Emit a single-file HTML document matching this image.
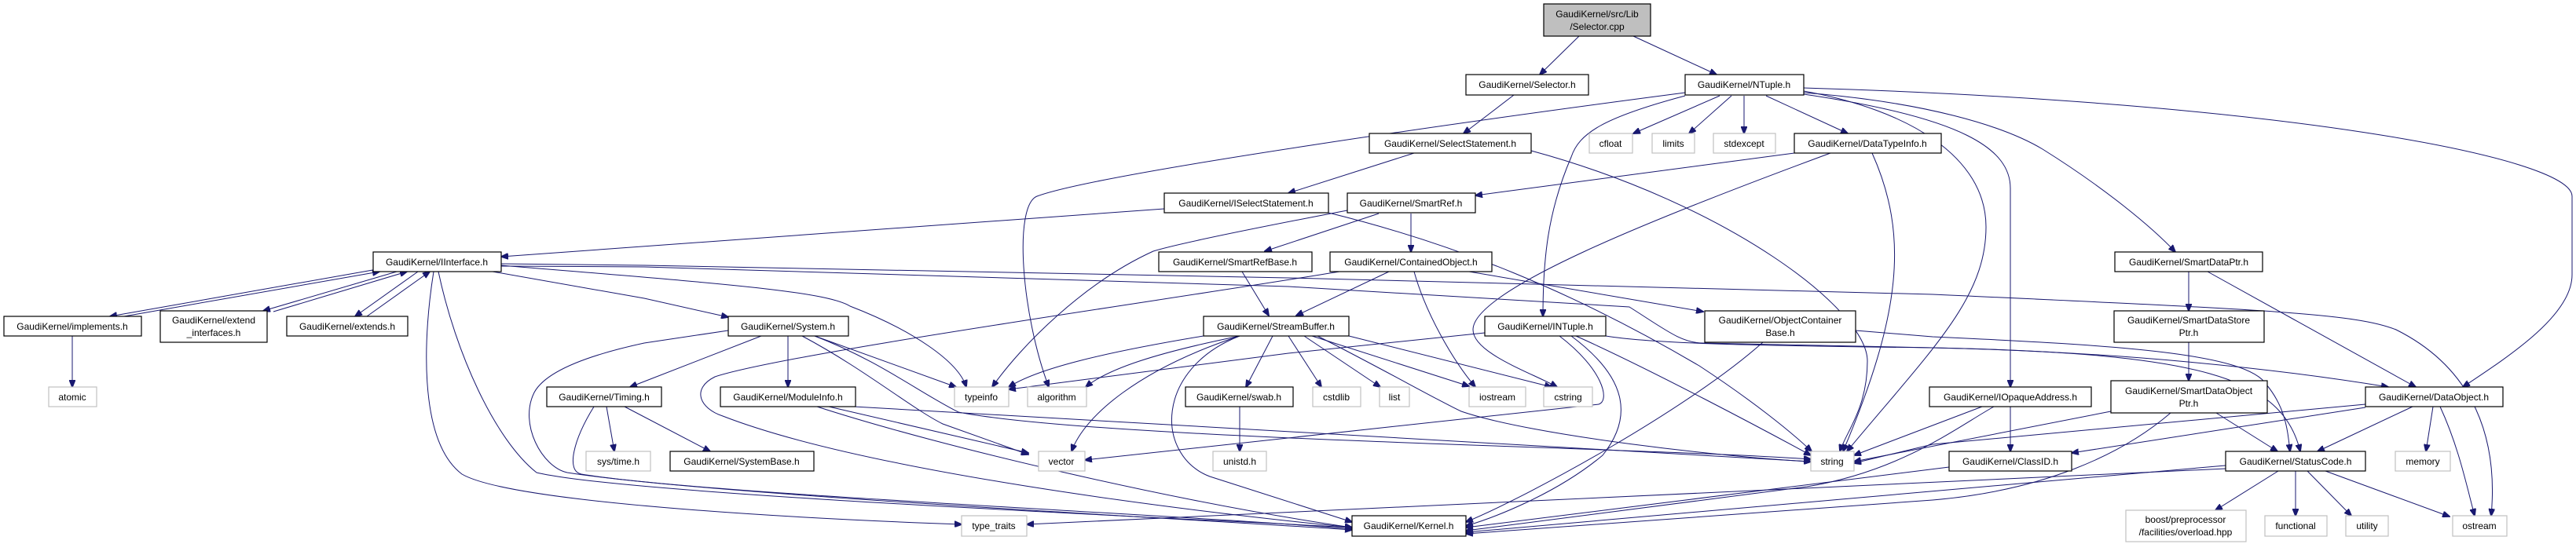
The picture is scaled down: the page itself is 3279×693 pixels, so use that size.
<!DOCTYPE html>
<html><head><meta charset="utf-8"><style>
html,body{margin:0;padding:0;background:#fff;}
svg{display:block;}
text{font-family:"Liberation Sans",sans-serif;font-size:12px;fill:#000;text-anchor:middle;}
.n{fill:#fff;stroke:#000;stroke-width:1.2;}
.g{fill:#fff;stroke:#c0c0c0;stroke-width:1.2;}
.e{fill:none;stroke:#191970;stroke-width:1;}
</style></head><body>
<svg width="3279" height="693" viewBox="0 0 3279 693" xmlns="http://www.w3.org/2000/svg">
<defs><marker id="a" markerWidth="10" markerHeight="8" refX="9" refY="4" orient="auto" markerUnits="userSpaceOnUse"><path d="M0,0 L10,4 L0,8 Z" fill="#191970" stroke="#191970"/></marker></defs>
<g class="e" marker-end="url(#a)">
<path d="M2010,46 L1960,95"/>
<path d="M2079,46 L2185,95"/>
<path d="M1927,121 L1863,170"/>
<path d="M1800,195 L1640,246"/>
<path d="M1949,192 C2200,260 2377,395 2377,460 C2377,520 2350,550 2342,575"/>
<path d="M1482,266 L638,327"/>
<path d="M1691,271 C1850,310 2000,370 2163,466 C2230,510 2280,550 2306,575"/>
<path d="M1755,272 L1610,320"/>
<path d="M1796,272 L1796,321"/>
<path d="M1715,268 C1600,290 1500,310 1468,320 C1380,360 1300,440 1263,493"/>
<path d="M2145,118 C1900,150 1400,220 1320,250 C1290,262 1300,400 1335,493"/>
<path d="M2145,122 C2040,150 2010,170 2000,200 C1970,270 1964,330 1964,403"/>
<path d="M2189,122 L2079,170"/>
<path d="M2204,122 L2150,170"/>
<path d="M2220,122 L2220,170"/>
<path d="M2248,122 L2352,170"/>
<path d="M2296,116 C2430,140 2528,200 2528,289 C2528,380 2460,444 2351,575"/>
<path d="M2296,118 C2450,130 2550,160 2600,190 C2680,240 2740,290 2769,321"/>
<path d="M2296,120 C2500,150 2559,190 2559,240 L2559,493"/>
<path d="M2296,112 C2900,130 3274,200 3274,250 L3274,350 C3274,400 3200,450 3135,493"/>
<path d="M2284,195 L1878,249"/>
<path d="M2383,195 C2430,300 2420,400 2346,575"/>
<path d="M2330,195 C2100,280 1875,370 1875,420 C1875,450 1950,475 1982,493"/>
<path d="M1581,346 L1615,402"/>
<path d="M1768,346 L1650,402"/>
<path d="M1800,346 C1815,400 1850,460 1878,493"/>
<path d="M1870,346 L2168,397"/>
<path d="M1705,346 C1500,380 1000,450 910,480 C880,495 890,520 920,530 C1100,600 1500,650 1721,672"/>
<path d="M480,343 L140,403"/>
<path d="M158,403 L483,346"/>
<path d="M505,346 L335,396"/>
<path d="M348,397 L518,346"/>
<path d="M532,346 L452,403"/>
<path d="M467,403 L547,346"/>
<path d="M627,346 L820,380 L927,404"/>
<path d="M638,338 C900,360 1050,370 1082,390 C1160,420 1220,460 1230,493"/>
<path d="M552,346 C540,420 530,560 588,604 C650,640 1000,660 1224,668"/>
<path d="M558,346 C580,450 630,560 683,602 C800,630 1500,660 1721,672"/>
<path d="M638,336 L820,338 L1640,354 L2460,375 C2900,395 3000,400 3050,420 C3150,470 3180,560 3171,657"/>
<path d="M638,339 L820,340 L1640,365 L2074,391 C2120,420 2140,437 2168,437 L2460,443 C2800,450 2905,480 2928,575"/>
<path d="M92,428 L92,493"/>
<path d="M969,428 L820,486 L802,493"/>
<path d="M1003,428 L1003,493"/>
<path d="M1037,428 L1217,493"/>
<path d="M1021,428 C1100,470 1160,520 1200,540 L1309,579"/>
<path d="M1037,428 C1120,460 1170,500 1220,525 C1400,560 2100,570 2305,585"/>
<path d="M927,421 L820,437 C760,450 696,470 680,500 C660,540 690,595 722,602 C900,630 1500,660 1721,675"/>
<path d="M772,518 L782,575"/>
<path d="M795,518 L904,575"/>
<path d="M756,518 C730,560 720,600 740,604 C900,630 1500,655 1721,674"/>
<path d="M1055,518 L1309,577"/>
<path d="M1087,518 L2305,588"/>
<path d="M1040,518 C1200,570 1500,640 1721,672"/>
<path d="M1532,428 C1400,450 1320,470 1284,493"/>
<path d="M1578,428 C1470,450 1410,470 1382,493"/>
<path d="M1578,428 C1450,470 1380,530 1364,575"/>
<path d="M1620,428 L1586,493"/>
<path d="M1640,428 L1682,493"/>
<path d="M1660,428 L1757,493"/>
<path d="M1670,428 L1870,492"/>
<path d="M1717,428 L1975,493"/>
<path d="M1677,428 C1760,470 1830,510 1860,524 C1950,555 2200,583 2305,588"/>
<path d="M1578,428 C1470,470 1470,580 1540,607 L1721,665"/>
<path d="M1578,518 L1578,575"/>
<path d="M1890,424 L1640,450 L1284,496"/>
<path d="M1985,428 C2040,470 2050,510 2035,515 L1381,586"/>
<path d="M2000,428 C2070,480 2080,530 2040,580 C1980,630 1900,660 1866,670"/>
<path d="M2006,428 C2100,470 2250,550 2305,580"/>
<path d="M2044,428 C2100,437 2200,440 2460,443 C2700,448 2900,470 3040,493"/>
<path d="M2362,421 L2460,429 C2700,440 2860,450 2885,490 C2910,520 2912,550 2915,575"/>
<path d="M2244,436 C2150,520 1950,630 1866,665"/>
<path d="M2559,518 L2559,575"/>
<path d="M2523,518 L2360,580"/>
<path d="M2538,518 C2490,545 2420,600 2300,620 L1866,676"/>
<path d="M2786,346 L2786,396"/>
<path d="M2810,346 L3075,493"/>
<path d="M2786,436 L2786,485"/>
<path d="M2821,526 L2899,575"/>
<path d="M2687,524 C2600,540 2500,560 2360,588"/>
<path d="M2763,526 C2700,580 2600,625 2460,637 L1866,680"/>
<path d="M3011,515 L2460,566 L2360,590"/>
<path d="M3011,519 L2637,577"/>
<path d="M3071,518 L2950,575"/>
<path d="M3097,518 L3088,575"/>
<path d="M3106,518 C3130,570 3140,620 3150,657"/>
<path d="M2900,600 L2820,650"/>
<path d="M2922,600 L2922,657"/>
<path d="M2937,600 L2993,657"/>
<path d="M2960,600 L3118,658"/>
<path d="M2833,593 L1866,678"/>
<path d="M2833,597 C2400,620 1900,640 1307,668"/>
<path d="M2481,595 L1866,672"/>
</g>
<g>
<rect x="1965" y="5" width="136" height="41" fill="#bfbfbf" stroke="#000" stroke-width="1.2"/><text x="2033" y="22">GaudiKernel/src/Lib</text><text x="2033" y="38">/Selector.cpp</text>
<rect class="n" x="1866" y="95" width="156" height="26"/><text x="1944" y="112">GaudiKernel/Selector.h</text>
<rect class="n" x="2145" y="95" width="151" height="26"/><text x="2220" y="112">GaudiKernel/NTuple.h</text>
<rect class="n" x="1743" y="170" width="206" height="25"/><text x="1846" y="187">GaudiKernel/SelectStatement.h</text>
<rect class="g" x="2023" y="170" width="55" height="25"/><text x="2050" y="187">cfloat</text>
<rect class="g" x="2103" y="170" width="54" height="25"/><text x="2130" y="187">limits</text>
<rect class="g" x="2181" y="170" width="79" height="25"/><text x="2220" y="187">stdexcept</text>
<rect class="n" x="2284" y="170" width="187" height="25"/><text x="2377" y="187">GaudiKernel/DataTypeInfo.h</text>
<rect class="n" x="1482" y="246" width="209" height="25"/><text x="1586" y="263">GaudiKernel/ISelectStatement.h</text>
<rect class="n" x="1715" y="246" width="163" height="25"/><text x="1796" y="263">GaudiKernel/SmartRef.h</text>
<rect class="n" x="475" y="321" width="163" height="25"/><text x="556" y="338">GaudiKernel/IInterface.h</text>
<rect class="n" x="1475" y="321" width="195" height="25"/><text x="1572" y="338">GaudiKernel/SmartRefBase.h</text>
<rect class="n" x="1693" y="321" width="206" height="25"/><text x="1796" y="338">GaudiKernel/ContainedObject.h</text>
<rect class="n" x="2692" y="321" width="188" height="25"/><text x="2786" y="338">GaudiKernel/SmartDataPtr.h</text>
<rect class="n" x="5" y="403" width="175" height="25"/><text x="92" y="420">GaudiKernel/implements.h</text>
<rect class="n" x="204" y="396" width="136" height="40"/><text x="272" y="412">GaudiKernel/extend</text><text x="272" y="428">_interfaces.h</text>
<rect class="n" x="365" y="403" width="154" height="25"/><text x="442" y="420">GaudiKernel/extends.h</text>
<rect class="n" x="927" y="403" width="153" height="25"/><text x="1003" y="420">GaudiKernel/System.h</text>
<rect class="n" x="1532" y="403" width="185" height="25"/><text x="1624" y="420">GaudiKernel/StreamBuffer.h</text>
<rect class="n" x="1890" y="403" width="154" height="25"/><text x="1967" y="420">GaudiKernel/INTuple.h</text>
<rect class="n" x="2170" y="396" width="192" height="40"/><text x="2266" y="412">GaudiKernel/ObjectContainer</text><text x="2266" y="428">Base.h</text>
<rect class="n" x="2691" y="396" width="191" height="40"/><text x="2786" y="412">GaudiKernel/SmartDataStore</text><text x="2786" y="428">Ptr.h</text>
<rect class="g" x="62" y="493" width="61" height="25"/><text x="92" y="510">atomic</text>
<rect class="n" x="696" y="493" width="146" height="25"/><text x="769" y="510">GaudiKernel/Timing.h</text>
<rect class="n" x="917" y="493" width="172" height="25"/><text x="1003" y="510">GaudiKernel/ModuleInfo.h</text>
<rect class="g" x="1215" y="493" width="69" height="25"/><text x="1249" y="510">typeinfo</text>
<rect class="g" x="1308" y="493" width="75" height="25"/><text x="1345" y="510">algorithm</text>
<rect class="n" x="1509" y="493" width="137" height="25"/><text x="1577" y="510">GaudiKernel/swab.h</text>
<rect class="g" x="1671" y="493" width="61" height="25"/><text x="1701" y="510">cstdlib</text>
<rect class="g" x="1756" y="493" width="38" height="25"/><text x="1775" y="510">list</text>
<rect class="g" x="1870" y="493" width="72" height="25"/><text x="1906" y="510">iostream</text>
<rect class="g" x="1965" y="493" width="62" height="25"/><text x="1996" y="510">cstring</text>
<rect class="n" x="2456" y="493" width="206" height="25"/><text x="2559" y="510">GaudiKernel/IOpaqueAddress.h</text>
<rect class="n" x="2687" y="485" width="199" height="41"/><text x="2786" y="502">GaudiKernel/SmartDataObject</text><text x="2786" y="518">Ptr.h</text>
<rect class="n" x="3011" y="493" width="175" height="25"/><text x="3098" y="510">GaudiKernel/DataObject.h</text>
<rect class="g" x="746" y="575" width="82" height="25"/><text x="787" y="592">sys/time.h</text>
<rect class="n" x="853" y="575" width="183" height="25"/><text x="944" y="592">GaudiKernel/SystemBase.h</text>
<rect class="g" x="1322" y="575" width="59" height="25"/><text x="1351" y="592">vector</text>
<rect class="g" x="1544" y="575" width="68" height="25"/><text x="1578" y="592">unistd.h</text>
<rect class="g" x="2305" y="575" width="55" height="25"/><text x="2332" y="592">string</text>
<rect class="n" x="2481" y="575" width="156" height="25"/><text x="2559" y="592">GaudiKernel/ClassID.h</text>
<rect class="n" x="2833" y="575" width="178" height="25"/><text x="2922" y="592">GaudiKernel/StatusCode.h</text>
<rect class="g" x="3049" y="575" width="70" height="25"/><text x="3084" y="592">memory</text>
<rect class="g" x="1224" y="657" width="83" height="26"/><text x="1265" y="674">type_traits</text>
<rect class="n" x="1721" y="657" width="145" height="26"/><text x="1793" y="674">GaudiKernel/Kernel.h</text>
<rect class="g" x="2706" y="650" width="153" height="40"/><text x="2782" y="666">boost/preprocessor</text><text x="2782" y="682">/facilities/overload.hpp</text>
<rect class="g" x="2883" y="657" width="79" height="26"/><text x="2922" y="674">functional</text>
<rect class="g" x="2986" y="657" width="54" height="26"/><text x="3013" y="674">utility</text>
<rect class="g" x="3122" y="657" width="69" height="26"/><text x="3156" y="674">ostream</text>
</g>
</svg>
</body></html>
